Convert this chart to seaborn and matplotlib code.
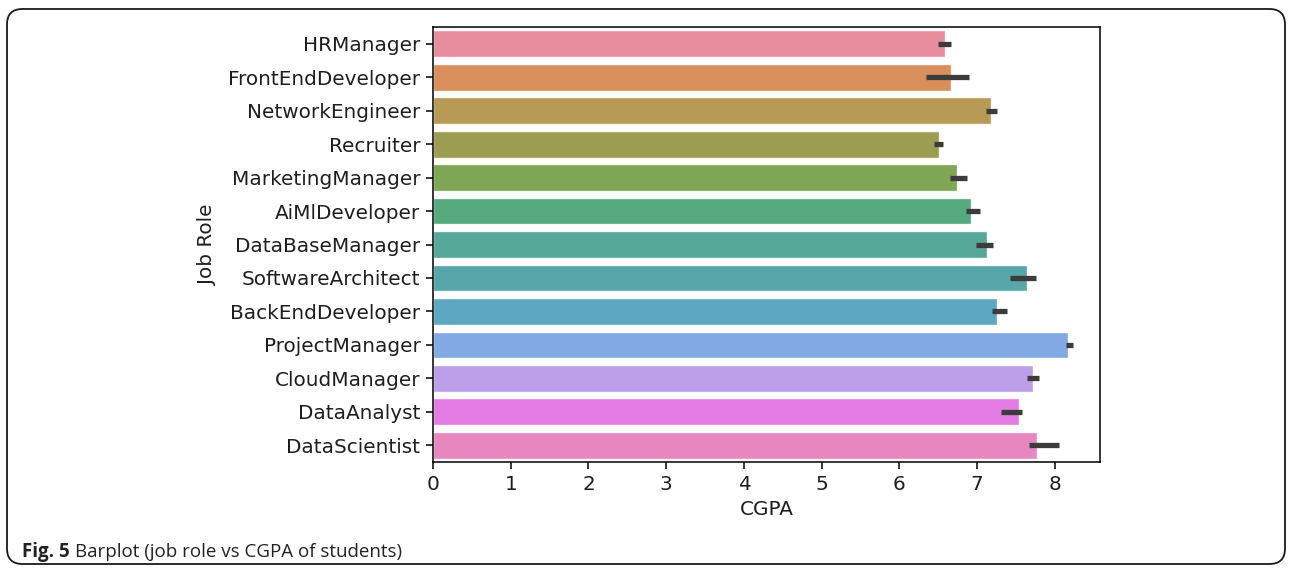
import matplotlib
matplotlib.use("Agg")
import matplotlib.pyplot as plt
from matplotlib.patches import FancyBboxPatch
import seaborn as sns
import pandas as pd

# Mean CGPA per job role and the bounds of its confidence interval
roles = [
    "HRManager", "FrontEndDeveloper", "NetworkEngineer", "Recruiter",
    "MarketingManager", "AiMlDeveloper", "DataBaseManager", "SoftwareArchitect",
    "BackEndDeveloper", "ProjectManager", "CloudManager", "DataAnalyst",
    "DataScientist",
]
cgpa_mean = [6.58, 6.66, 7.18, 6.51, 6.74, 6.92, 7.12, 7.64, 7.25, 8.17, 7.72, 7.54, 7.77]
ci_low = [6.50, 6.34, 7.11, 6.44, 6.65, 6.85, 6.98, 7.42, 7.19, 8.14, 7.64, 7.31, 7.67]
ci_high = [6.66, 6.89, 7.25, 6.56, 6.87, 7.04, 7.20, 7.76, 7.38, 8.23, 7.79, 7.58, 8.05]

df = pd.DataFrame({"Job Role": roles, "CGPA": cgpa_mean})

sns.set_style("ticks")
plt.rcParams.update({
    "font.family": "sans-serif",
    "font.sans-serif": ["DejaVu Sans"],
    "axes.edgecolor": "black",
    "axes.linewidth": 1.1,
    "xtick.major.size": 5,
    "ytick.major.size": 5,
    "xtick.major.width": 1.1,
    "ytick.major.width": 1.1,
    "xtick.color": "black",
    "ytick.color": "black",
    "xtick.labelcolor": "#1e1e1e",
    "ytick.labelcolor": "#1e1e1e",
})

W, H = 1292, 569
fig = plt.figure(figsize=(W / 100, H / 100), dpi=100)
ax = fig.add_axes([433 / W, 1 - 462 / H, (1100 - 433) / W, (462 - 27) / H])

sns.barplot(
    data=df, x="CGPA", y="Job Role", hue="Job Role", palette="husl",
    saturation=0.75, errorbar=None, legend=False, width=0.8, alpha=0.9, ax=ax,
)
ax.hlines(roles, ci_low, ci_high, color="#3c3c3c", linewidth=3.8, zorder=3)

ax.set_xlim(0, 8.58)
ax.set_ylim(len(roles) - 0.5, -0.5)
ax.set_xticks(range(0, 9))
ax.tick_params(axis="both", labelsize=14.4, pad=4)
ax.set_xlabel("CGPA", fontsize=14.4, color="#1e1e1e", labelpad=5)
ax.set_ylabel("Job Role", fontsize=14.4, color="#1e1e1e", labelpad=8)
for s in ax.spines.values():
    s.set_visible(True)
    s.set_color("black")

# Rounded frame around the figure
frame = FancyBboxPatch(
    (7 / W, 5 / H), (W - 14) / W, (H - 14) / H,
    boxstyle="round,pad=0,rounding_size=0.012",
    transform=fig.transFigure, fill=False, edgecolor="#1a1a1a", linewidth=1.3,
    mutation_aspect=W / H,
)
fig.patches.append(frame)

# Caption: bold figure number followed by regular text
cap_y = 1 - 552 / H
t1 = fig.text(22 / W, cap_y, "Fig. 5", fontsize=13.5, fontweight="bold",
              family="Open Sans", va="center", color="#222222")
fig.canvas.draw()
bb = t1.get_window_extent()
fig.text((bb.x1 + 5) / W, cap_y, "Barplot (job role vs CGPA of students)",
         fontsize=13.5, family="Open Sans", va="center", color="#222222")

fig.savefig("out.png", dpi=100)
